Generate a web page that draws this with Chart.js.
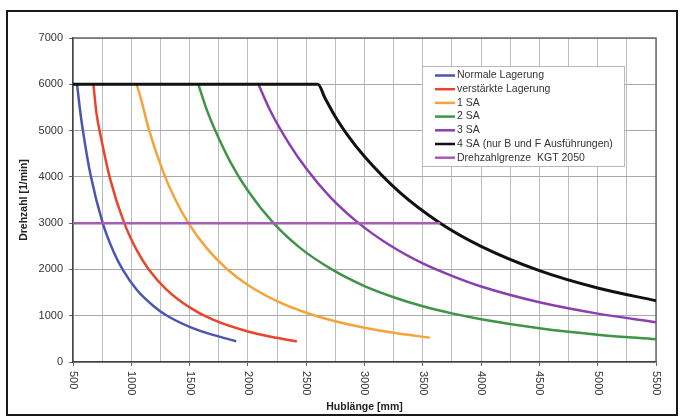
<!DOCTYPE html>
<html>
<head>
<meta charset="utf-8">
<script src="https://cdn.jsdelivr.net/npm/chart.js@4.4.1/dist/chart.umd.min.js"></script>
<style>
  html, body { margin: 0; padding: 0; background: #fff; }
  #wrap { position: relative; width: 681px; height: 418px; }
  #wrap canvas { position: absolute; left: 0; top: 0; }
  #frame { position: absolute; left: 6px; top: 10px; width: 668px; height: 402px; border: 2px solid #1a1a1a; pointer-events: none; }
</style>
</head>
<body>
<div id="wrap">
  <canvas id="chart" width="681" height="418"></canvas>
  <div id="frame"></div>
</div>
<script>
const FONT = '"Liberation Sans", Arial, sans-serif';

// x = Hublänge [mm], y = Drehzahl [1/min]
const normalX = [535, 560, 585, 650, 755, 850, 925, 1050, 1200, 1300, 1500, 1700, 1900];
const normalY = [6000, 5450, 5000, 4050, 3000, 2370, 2000, 1550, 1190, 1010, 760, 585, 450];

const verstaerktX = [675, 700, 740, 820, 940, 1050, 1150, 1300, 1500, 1700, 2000, 2200, 2420];
const verstaerktY = [6000, 5400, 4850, 3940, 3000, 2400, 2000, 1570, 1180, 915, 660, 545, 445];

const sa1X = [1045, 1080, 1150, 1270, 1370, 1490, 1650, 1820, 2000, 2250, 2500, 2750, 3000, 3250, 3560];
const sa1Y = [6000, 5710, 5030, 4130, 3550, 3000, 2450, 2010, 1665, 1315, 1065, 880, 740, 630, 525];

const sa2X = [1575, 1650, 1720, 1850, 2000, 2220, 2450, 2720, 3000, 3250, 3500, 3750, 4000, 4500, 5000, 5500];
const sa2Y = [6000, 5430, 5000, 4320, 3700, 3000, 2460, 2000, 1640, 1400, 1205, 1050, 925, 730, 590, 490];

const sa3X = [2090, 2200, 2350, 2500, 2700, 2950, 3200, 3500, 3750, 4000, 4500, 5000, 5500];
const sa3Y = [6000, 5390, 4730, 4180, 3580, 3000, 2550, 2130, 1860, 1630, 1290, 1045, 860];

const sa4X = [500, 2600, 2660, 2750, 2850, 3000, 3300, 3650, 4000, 4500, 5000, 5500];
const sa4Y = [6000, 6000, 5710, 5300, 4920, 4440, 3670, 3000, 2500, 1975, 1600, 1325];

const grenzeX = [500, 3650];
const grenzeY = [3000, 3000];

const xTickLabels = [500, 1000, 1500, 2000, 2500, 3000, 3500, 4000, 4500, 5000, 5500];

const seriesLabels = [
  'Normale Lagerung',
  'verstärkte Lagerung',
  '1 SA',
  '2 SA',
  '3 SA',
  '4 SA (nur B und F Ausführungen)',
  'Drehzahlgrenze  KGT 2050'
];
const seriesColors = ['#4b56b0', '#e8452c', '#f5a33a', '#3f9447', '#8b3fae', '#111111', '#a85bb5'];
const seriesWidths = [2.5, 2.5, 2.5, 2.5, 2.5, 3, 2.5];
const seriesX = [normalX, verstaerktX, sa1X, sa2X, sa3X, sa4X, grenzeX];
const seriesY = [normalY, verstaerktY, sa1Y, sa2Y, sa3Y, sa4Y, grenzeY];

function zip(xs, ys) {
  return xs.map((x, i) => ({ x, y: ys[i] }));
}

const datasets = seriesLabels.map((label, i) => ({
  label,
  data: zip(seriesX[i], seriesY[i]),
  borderColor: seriesColors[i],
  backgroundColor: seriesColors[i],
  borderWidth: seriesWidths[i],
  pointRadius: 0,
  cubicInterpolationMode: 'monotone',
  order: seriesLabels.length - i
}));

// x labels in the reference are turned clockwise (read top to bottom)
const xLabelPlugin = {
  id: 'xLabels',
  afterDraw(chart) {
    const scale = chart.scales.x;
    const ctx = chart.ctx;
    ctx.save();
    ctx.font = '11px ' + FONT;
    ctx.fillStyle = '#333';
    ctx.textAlign = 'left';
    ctx.textBaseline = 'middle';
    xTickLabels.forEach(v => {
      ctx.save();
      ctx.translate(scale.getPixelForValue(v), scale.top + 9);
      ctx.rotate(Math.PI / 2);
      ctx.fillText(String(v), 0, 0);
      ctx.restore();
    });
    ctx.restore();
  }
};

const plotBorderPlugin = {
  id: 'plotBorder',
  beforeDatasetsDraw(chart) {
    const { ctx, chartArea: a } = chart;
    ctx.save();
    ctx.strokeStyle = '#6a6a6a';
    ctx.lineWidth = 1.5;
    ctx.beginPath();
    ctx.moveTo(a.left, a.top);
    ctx.lineTo(a.right, a.top);
    ctx.lineTo(a.right, a.bottom);
    ctx.stroke();
    ctx.restore();
  }
};

const boxLegendPlugin = {
  id: 'boxLegend',
  afterDraw(chart) {
    const ctx = chart.ctx;
    const left = 422, top = 66, width = 202, height = 100;
    ctx.save();
    ctx.fillStyle = '#fff';
    ctx.fillRect(left, top, width, height);
    ctx.strokeStyle = '#b8b8b8';
    ctx.lineWidth = 1;
    ctx.strokeRect(left + 0.5, top + 0.5, width, height);
    ctx.font = '10.5px ' + FONT;
    ctx.textAlign = 'left';
    ctx.textBaseline = 'middle';
    chart.data.datasets.forEach((ds, i) => {
      const y = top + 9.5 + i * 13.7;
      ctx.strokeStyle = ds.borderColor;
      ctx.lineWidth = 2.5;
      ctx.beginPath();
      ctx.moveTo(left + 13, y);
      ctx.lineTo(left + 33, y);
      ctx.stroke();
      ctx.fillStyle = '#333';
      ctx.fillText(ds.label, left + 35, y);
    });
    ctx.restore();
  }
};

new Chart(document.getElementById('chart'), {
  type: 'line',
  data: { datasets },
  plugins: [plotBorderPlugin, xLabelPlugin, boxLegendPlugin],
  options: {
    responsive: false,
    animation: false,
    layout: { padding: { left: 0, top: 38, right: 25, bottom: 0 } },
    plugins: {
      legend: { display: false },
      tooltip: { enabled: false }
    },
    scales: {
      x: {
        type: 'linear',
        min: 500,
        max: 5500,
        afterFit: (scale) => { scale.height = 56; },
        ticks: { stepSize: 250, display: false },
        grid: {
          color: '#bdbdbd',
          lineWidth: 1,
          tickLength: 4,
          tickColor: (c) => (c.tick && c.tick.value % 500 === 0 ? '#666' : 'rgba(0,0,0,0)')
        },
        border: { color: '#444', width: 1.5 },
        title: {
          display: true,
          text: 'Hublänge [mm]',
          color: '#222',
          font: { family: FONT, size: 10.5, weight: 'bold' },
          padding: { top: 0, bottom: 5 }
        }
      },
      y: {
        min: 0,
        max: 7000,
        afterFit: (scale) => { scale.width = 73; },
        ticks: {
          stepSize: 1000,
          padding: 6,
          color: '#333',
          font: { family: FONT, size: 11 },
          callback: (v) => String(v)
        },
        grid: { color: '#a9a9a9', lineWidth: 1, tickLength: 4, tickColor: '#666' },
        border: { color: '#444', width: 1.5 },
        title: {
          display: true,
          text: 'Drehzahl [1/min]',
          color: '#222',
          font: { family: FONT, size: 10.5, weight: 'bold' },
          padding: { top: 18, bottom: 0 }
        }
      }
    }
  }
});
</script>
</body>
</html>
